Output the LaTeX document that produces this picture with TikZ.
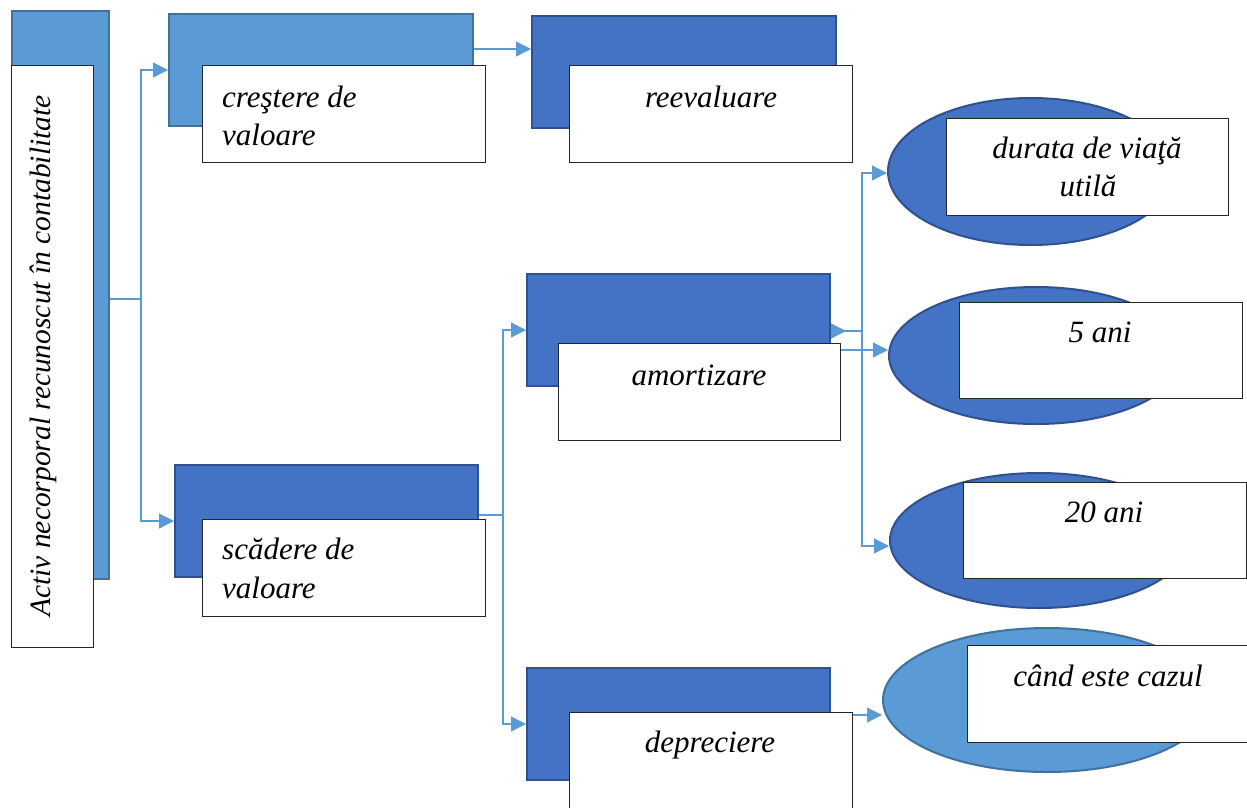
\documentclass[tikz,border=0pt]{standalone}
\usepackage{fontspec}
\setmainfont{Liberation Serif}
\usetikzlibrary{arrows.meta,shapes.geometric}
\definecolor{lblue}{HTML}{5B9BD5}
\definecolor{lbord}{HTML}{41719C}
\definecolor{dblue}{HTML}{4472C4}
\definecolor{dbord}{HTML}{2F528F}
\begin{document}
\begin{tikzpicture}[x=1pt,y=-1pt,
  lbox/.style={draw=lbord,fill=lblue,line width=2pt,anchor=north west,inner sep=0pt,rectangle},
  dbox/.style={draw=dbord,fill=dblue,line width=2pt,anchor=north west,inner sep=0pt,rectangle},
  wbox/.style={draw=black!85,fill=white,line width=1.3pt,anchor=north west,inner sep=0pt,rectangle},
  dell/.style={ellipse,draw=dbord,fill=dblue,line width=2pt,inner sep=0pt},
  lell/.style={ellipse,draw=lbord,fill=lblue,line width=2pt,inner sep=0pt},
  conn/.style={draw=lblue,line width=1.2pt},
  arr/.style={-{Triangle[length=15pt,width=15pt]}},
  txt/.style={font=\fontsize{31}{38}\selectfont\itshape,inner sep=0pt}]
\useasboundingbox (0,0) rectangle (1247,808);
\clip (0,0) rectangle (1247,808);
\fill[white] (0,0) rectangle (1247,808);

% rectangles
\node[lbox,minimum width=97pt,minimum height=568pt] (L0) at (11,10) {};
\node[wbox,minimum width=82pt,minimum height=582pt] (W0) at (11,65) {};
\node[lbox,minimum width=304pt,minimum height=112pt] (B1) at (168,13) {};
\node[wbox,minimum width=283pt,minimum height=97pt] (W1) at (202,65) {};
\node[dbox,minimum width=304pt,minimum height=112pt] (B2) at (531,15) {};
\node[wbox,minimum width=283pt,minimum height=97pt] (W2) at (569,65) {};
\node[dbox,minimum width=303pt,minimum height=112pt] (B3) at (174,464) {};
\node[wbox,minimum width=283pt,minimum height=97pt] (W3) at (202,519) {};
\node[dbox,minimum width=303pt,minimum height=112pt] (B4) at (526,273) {};
\node[wbox,minimum width=282pt,minimum height=97pt] (W4) at (558,343) {};
\node[dbox,minimum width=303pt,minimum height=112pt] (B5) at (526,667) {};
\node[wbox,minimum width=283pt,minimum height=106pt] (W5) at (569,712) {};

% ellipses
\node[dell,minimum width=286pt,minimum height=147pt] (E1) at (1031,171.5) {};
\node[wbox,minimum width=282pt,minimum height=97pt] (WE1) at (946,118) {};
\node[dell,minimum width=294pt,minimum height=137pt] (E2) at (1036,355.5) {};
\node[wbox,minimum width=283pt,minimum height=96pt] (WE2) at (959,302) {};
\node[dell,minimum width=298pt,minimum height=135pt] (E3) at (1039,540.5) {};
\node[wbox,minimum width=283pt,minimum height=96pt] (WE3) at (963,482) {};
\node[lell,minimum width=328pt,minimum height=144pt] (E4) at (1047,700) {};
\node[wbox,minimum width=290pt,minimum height=97pt] (WE4) at (967,645) {};

% texts
\node[txt,font=\fontsize{29.5}{36}\selectfont\itshape,rotate=90,anchor=base] (T0) at (50,356) {Activ necorporal recunoscut în contabilitate};
\node[txt,anchor=base west] (T1a) at (222,107) {creştere de};
\node[txt,anchor=base west] (T1b) at (222,145) {valoare};
\node[txt,anchor=base] (T2) at (711,107) {reevaluare};
\node[txt,anchor=base west] (T3a) at (222,559) {scădere de};
\node[txt,anchor=base west] (T3b) at (222,598) {valoare};
\node[txt,anchor=base] (T4) at (699,385) {amortizare};
\node[txt,anchor=base] (T5) at (710,752) {depreciere};
\node[txt,anchor=base] (T6a) at (1087,158) {durata de viaţă};
\node[txt,anchor=base] (T6b) at (1088,196) {utilă};
\node[txt,anchor=base] (T7) at (1100,342) {5 ani};
\node[txt,anchor=base] (T8) at (1104,522) {20 ani};
\node[txt,anchor=base] (T9) at (1108,686) {când este cazul};

% connectors
\coordinate (j0) at (141,299);
\draw[conn] (L0.east |- j0) -- (j0);
\draw[conn,arr] (j0) |- (B1.west);
\draw[conn,arr] (j0) |- (B3.west);

\coordinate (y49) at (0,49);
\draw[conn,arr] (B1.east |- y49) -- (B2.west |- y49);

\coordinate (j1) at (503,515);
\draw[conn] (B3.east |- j1) -- (j1);
\draw[conn,arr] (j1) |- (B4.west);
\draw[conn,arr] (j1) |- (B5.west);

\coordinate (j2) at (862,331);
\coordinate (y546) at (0,546);
\coordinate (y173) at (0,173);
\draw[conn] (B4.east |- j2) -- (j2);
\draw[conn,arr] (B4.east |- j2) -- ++(15,0);
\draw[conn,arr] (j2) |- (E1.west |- y173);
\draw[conn,arr] (j2) |- (E3.west |- y546);

\coordinate (y350) at (0,350);
\draw[conn,arr] (W4.east |- y350) -- (E2.west |- y350);

\coordinate (y715) at (0,715);
\draw[conn,arr] (W5.east |- y715) -- (E4.west |- y715);
\end{tikzpicture}
\end{document}
